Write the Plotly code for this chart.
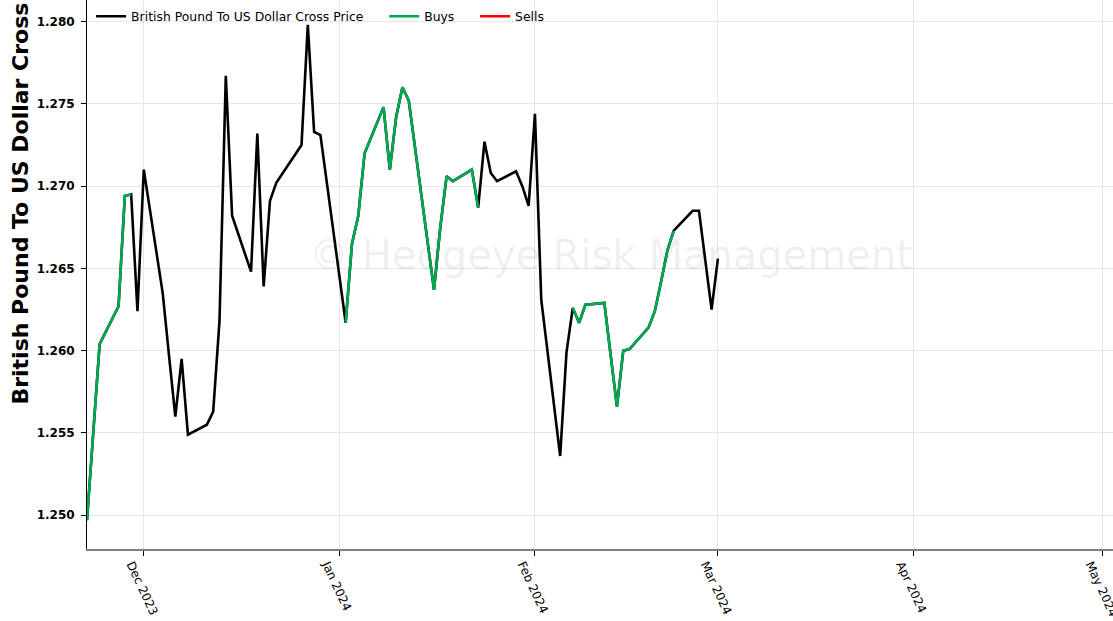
import plotly.graph_objects as go

# ── Data: GBP/USD daily closes and signal state (B = buy, "" = none) ─────────
dates = [
    "2023-11-22", "2023-11-24", "2023-11-27", "2023-11-28", "2023-11-29", "2023-11-30",
    "2023-12-01", "2023-12-04", "2023-12-05", "2023-12-06", "2023-12-07", "2023-12-08",
    "2023-12-11", "2023-12-12", "2023-12-13", "2023-12-14", "2023-12-15", "2023-12-18",
    "2023-12-19", "2023-12-20", "2023-12-21", "2023-12-22", "2023-12-26", "2023-12-27",
    "2023-12-28", "2023-12-29", "2024-01-02", "2024-01-03", "2024-01-04", "2024-01-05",
    "2024-01-08", "2024-01-09", "2024-01-10", "2024-01-11", "2024-01-12", "2024-01-16",
    "2024-01-17", "2024-01-18", "2024-01-19", "2024-01-22", "2024-01-23", "2024-01-24",
    "2024-01-25", "2024-01-26", "2024-01-29", "2024-01-30", "2024-01-31", "2024-02-01",
    "2024-02-02", "2024-02-05", "2024-02-06", "2024-02-07", "2024-02-08", "2024-02-09",
    "2024-02-12", "2024-02-13", "2024-02-14", "2024-02-15", "2024-02-16", "2024-02-19",
    "2024-02-20", "2024-02-21", "2024-02-22", "2024-02-23", "2024-02-26", "2024-02-27",
    "2024-02-28", "2024-02-29", "2024-03-01",
]
prices = [
    1.2497, 1.2604, 1.2627, 1.2694, 1.2695, 1.2624,
    1.2710, 1.2635, 1.2597, 1.2560, 1.2595, 1.2549,
    1.2555, 1.2563, 1.2618, 1.2767, 1.2682, 1.2648,
    1.2732, 1.2639, 1.2691, 1.2702, 1.2725, 1.2798,
    1.2733, 1.2731, 1.2617, 1.2665, 1.2682, 1.2720,
    1.2748, 1.2710, 1.2742, 1.2760, 1.2752, 1.2637,
    1.2675, 1.2706, 1.2703, 1.2710, 1.2687, 1.2727,
    1.2708, 1.2703, 1.2709, 1.2700, 1.2688, 1.2744,
    1.2631, 1.2536, 1.2599, 1.2626, 1.2617, 1.2628,
    1.2629, 1.2597, 1.2566, 1.2600, 1.2601, 1.2614,
    1.2624, 1.2642, 1.2661, 1.2673, 1.2685, 1.2685,
    1.2655, 1.2625, 1.2656,
]
signals = (
    ["B"] * 5 + [""] * 21 + ["B"] * 15 + [""] * 10 + ["B"] * 13 + [""] * 5
)

y_ticks = [1.250, 1.255, 1.260, 1.265, 1.270, 1.275, 1.280]
x_ticks = ["2023-12-01", "2024-01-01", "2024-02-01", "2024-03-01", "2024-04-01", "2024-05-01"]
x_tick_labels = ["Dec 2023", "Jan 2024", "Feb 2024", "Mar 2024", "Apr 2024", "May 2024"]

buys = [p if s == "B" else None for p, s in zip(prices, signals)]
sells = [p if s == "S" else None for p, s in zip(prices, signals)]

GREEN = "#00a84f"
FONT = "DejaVu Sans"
PAD = "\u00a0" * 4  # extra room between legend entries

fig = go.Figure()

fig.add_trace(go.Scatter(
    x=dates, y=prices, mode="lines",
    name="British Pound To US Dollar Cross Price" + PAD,
    line=dict(color="black", width=2.6),
))
fig.add_trace(go.Scatter(
    x=dates, y=buys, mode="lines", name="Buys" + PAD,
    line=dict(color=GREEN, width=2.6), connectgaps=False,
))
fig.add_trace(go.Scatter(
    x=dates, y=sells, mode="lines", name="Sells",
    line=dict(color="red", width=2.6), connectgaps=False,
))

# watermark
fig.add_annotation(
    text="© Hedgeye Risk Management",
    xref="paper", yref="paper", x=0.51, y=0.535,
    showarrow=False, font=dict(family=FONT, size=40, color="rgba(0,0,0,0.075)"),
)

# y-axis title (cut at the top, as in the source image)
fig.add_annotation(
    text="<b>British Pound To US Dollar Cross</b>",
    xref="paper", yref="paper", x=-0.065, y=0.26,
    xanchor="center", yanchor="bottom", textangle=-90,
    showarrow=False, font=dict(family=FONT, size=22, color="black"),
)

fig.update_layout(
    width=1113, height=621,
    margin=dict(l=87, r=0, t=0, b=72, autoexpand=False),
    plot_bgcolor="white", paper_bgcolor="white",
    font=dict(family=FONT, size=12, color="black"),
    showlegend=True,
    legend=dict(
        orientation="h", x=0.004, y=0.997, xanchor="left", yanchor="top",
        bgcolor="rgba(0,0,0,0)", font=dict(size=12.4),
        itemwidth=30, tracegroupgap=0,
    ),
)

fig.update_xaxes(
    type="date",
    range=["2023-11-22", "2024-05-02 15:00"],
    tickvals=x_ticks, ticktext=x_tick_labels,
    tickangle=65, tickfont=dict(family=FONT, size=12),
    ticks="outside", ticklen=5, tickcolor="black",
    ticklabelshift=-12, ticklabelstandoff=-3,
    ticklabeloverflow="allow", automargin=False,
    showgrid=True, gridcolor="#e6e6e6", gridwidth=1,
    showline=True, linecolor="#808080", linewidth=2,
    zeroline=False,
)
fig.update_yaxes(
    range=[1.24795, 1.28131],
    tickvals=y_ticks, tickformat=".3f",
    tickfont=dict(family=FONT, size=12, weight="bold"),
    ticks="outside", ticklen=5, tickcolor="black",
    ticklabelstandoff=4, automargin=False,
    showgrid=True, gridcolor="#e6e6e6", gridwidth=1,
    showline=True, linecolor="black", linewidth=1,
    zeroline=False,
)

fig.write_html(
    "out.html",
    config={"displayModeBar": False},
    post_script="document.body.style.margin = '0';",
)
